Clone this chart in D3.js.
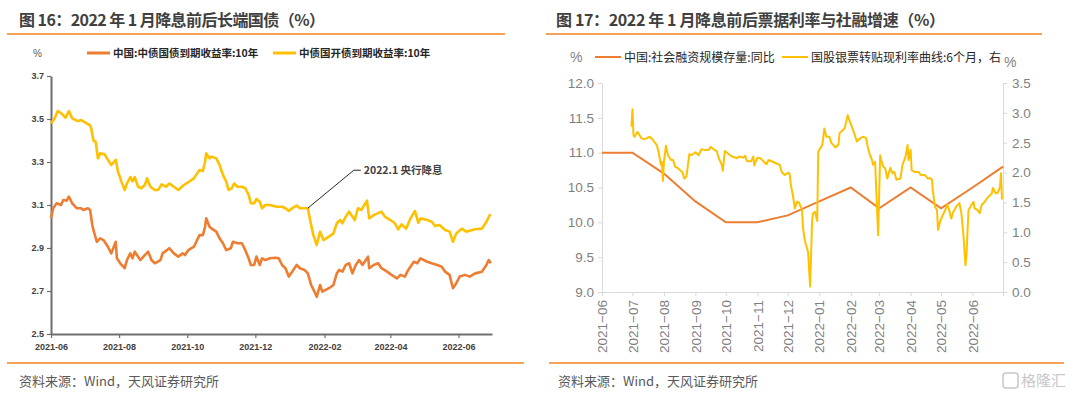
<!DOCTYPE html>
<html>
<head>
<meta charset="utf-8">
<script src="https://cdn.jsdelivr.net/npm/d3@7"></script>
<style>
  body { margin: 0; background: #fff; }
  svg { display: block; }
  .cjk { font-family: "Noto Sans CJK SC", "Noto Sans", sans-serif; }
</style>
</head>
<body>
<div id="chart"></div>
<script>
// left chart: 10Y yields (daily)
const cgbDates = ["2021-06-01","2021-06-03","2021-06-06","2021-06-10","2021-06-12","2021-06-15","2021-06-17","2021-06-20","2021-06-24","2021-06-28","2021-06-30","2021-07-04","2021-07-06","2021-07-08","2021-07-09","2021-07-12","2021-07-15","2021-07-18","2021-07-22","2021-07-25","2021-07-29","2021-07-30","2021-08-02","2021-08-06","2021-08-08","2021-08-11","2021-08-13","2021-08-15","2021-08-20","2021-08-24","2021-08-27","2021-08-30","2021-09-02","2021-09-07","2021-09-09","2021-09-15","2021-09-19","2021-09-23","2021-09-27","2021-09-29","2021-10-02","2021-10-07","2021-10-12","2021-10-15","2021-10-17","2021-10-18","2021-10-21","2021-10-23","2021-10-27","2021-10-30","2021-11-02","2021-11-05","2021-11-09","2021-11-11","2021-11-15","2021-11-19","2021-11-22","2021-11-25","2021-11-27","2021-11-30","2021-12-02","2021-12-05","2021-12-07","2021-12-10","2021-12-14","2021-12-19","2021-12-22","2021-12-25","2021-12-28","2021-12-31","2022-01-03","2022-01-07","2022-01-10","2022-01-14","2022-01-17","2022-01-20","2022-01-23","2022-01-25","2022-01-28","2022-01-30","2022-02-05","2022-02-09","2022-02-12","2022-02-14","2022-02-17","2022-02-20","2022-02-23","2022-02-26","2022-03-01","2022-03-04","2022-03-07","2022-03-10","2022-03-12","2022-03-13","2022-03-17","2022-03-21","2022-03-24","2022-03-29","2022-04-02","2022-04-07","2022-04-10","2022-04-14","2022-04-17","2022-04-22","2022-04-25","2022-04-28","2022-05-04","2022-05-08","2022-05-13","2022-05-17","2022-05-20","2022-05-24","2022-05-27","2022-05-30","2022-06-02","2022-06-07","2022-06-11","2022-06-16","2022-06-22","2022-06-26","2022-06-28","2022-06-30"];
const cgbYield = [3.04,3.085,3.108,3.10,3.123,3.12,3.139,3.108,3.085,3.085,3.077,3.085,3.077,3.007,2.984,2.929,2.945,2.937,2.906,2.875,2.929,2.852,2.829,2.806,2.844,2.875,2.852,2.883,2.844,2.867,2.883,2.844,2.829,2.844,2.875,2.899,2.875,2.86,2.875,2.867,2.89,2.906,2.96,2.96,2.999,3.038,2.999,2.99,2.976,2.945,2.922,2.89,2.899,2.929,2.922,2.922,2.89,2.852,2.821,2.821,2.86,2.821,2.852,2.844,2.852,2.855,2.852,2.821,2.806,2.767,2.79,2.821,2.806,2.798,2.782,2.728,2.697,2.673,2.728,2.697,2.713,2.728,2.782,2.798,2.79,2.821,2.829,2.782,2.821,2.844,2.821,2.844,2.86,2.806,2.821,2.829,2.806,2.79,2.775,2.759,2.775,2.767,2.798,2.836,2.829,2.852,2.836,2.829,2.821,2.813,2.79,2.775,2.713,2.736,2.767,2.775,2.767,2.782,2.79,2.821,2.844,2.829];

const cdbDates = ["2021-06-01","2021-06-04","2021-06-07","2021-06-10","2021-06-14","2021-06-17","2021-06-20","2021-06-25","2021-06-28","2021-07-03","2021-07-06","2021-07-07","2021-07-09","2021-07-11","2021-07-13","2021-07-15","2021-07-19","2021-07-22","2021-07-25","2021-07-29","2021-07-31","2021-08-03","2021-08-06","2021-08-08","2021-08-11","2021-08-13","2021-08-15","2021-08-18","2021-08-21","2021-08-24","2021-08-26","2021-08-29","2021-09-02","2021-09-05","2021-09-08","2021-09-12","2021-09-15","2021-09-19","2021-09-23","2021-09-28","2021-10-02","2021-10-07","2021-10-09","2021-10-12","2021-10-15","2021-10-17","2021-10-18","2021-10-21","2021-10-23","2021-10-27","2021-10-30","2021-11-02","2021-11-05","2021-11-07","2021-11-10","2021-11-12","2021-11-15","2021-11-19","2021-11-22","2021-11-25","2021-11-27","2021-11-30","2021-12-02","2021-12-05","2021-12-07","2021-12-10","2021-12-14","2021-12-20","2021-12-25","2021-12-28","2021-12-31","2022-01-03","2022-01-07","2022-01-10","2022-01-17","2022-01-20","2022-01-22","2022-01-25","2022-01-28","2022-01-31","2022-02-05","2022-02-09","2022-02-12","2022-02-15","2022-02-17","2022-02-20","2022-02-23","2022-02-26","2022-02-28","2022-03-03","2022-03-06","2022-03-08","2022-03-11","2022-03-13","2022-03-17","2022-03-20","2022-03-24","2022-03-27","2022-04-01","2022-04-05","2022-04-08","2022-04-11","2022-04-15","2022-04-19","2022-04-23","2022-04-26","2022-04-28","2022-05-04","2022-05-08","2022-05-11","2022-05-15","2022-05-20","2022-05-24","2022-05-27","2022-05-30","2022-06-04","2022-06-08","2022-06-11","2022-06-16","2022-06-22","2022-06-26","2022-06-29","2022-06-30"];
const cdbYield = [3.48,3.50,3.537,3.527,3.506,3.537,3.503,3.49,3.495,3.48,3.47,3.457,3.40,3.394,3.317,3.34,3.336,3.31,3.286,3.31,3.255,3.21,3.17,3.20,3.23,3.21,3.23,3.185,3.178,3.193,3.224,3.185,3.17,3.17,3.196,3.185,3.20,3.185,3.17,3.193,3.206,3.224,3.24,3.263,3.258,3.30,3.34,3.317,3.325,3.317,3.286,3.24,3.208,3.17,3.178,3.20,3.185,3.185,3.178,3.147,3.108,3.108,3.128,3.115,3.085,3.10,3.10,3.092,3.092,3.085,3.072,3.085,3.097,3.085,3.085,3.007,2.96,2.914,2.976,2.937,2.953,2.968,3.015,3.03,3.015,3.046,3.069,3.046,3.03,3.085,3.077,3.095,3.12,3.038,3.053,3.06,3.069,3.046,3.03,3.015,2.987,3.01,2.99,3.038,3.072,3.018,3.038,3.03,3.022,3.002,3.007,2.984,2.976,2.929,2.968,2.99,2.976,2.98,2.987,2.99,3.022,3.053,3.05];

const leftYTicks = [2.5, 2.7, 2.9, 3.1, 3.3, 3.5, 3.7];
const leftXTicks = ["2021-06-01","2021-08-01","2021-10-01","2021-12-01","2022-02-01","2022-04-01","2022-06-01"];
const cutDate = "2022-01-17";

// right chart: social financing stock yoy (monthly) and 6M bill rate (daily)
const tsfMonths = ["2021-06-01","2021-07-01","2021-08-01","2021-09-01","2021-10-01","2021-11-01","2021-12-01","2022-01-01","2022-02-01","2022-03-01","2022-04-01","2022-05-01","2022-06-01","2022-07-01"];
const tsfYoY = [11.0,11.0,10.7,10.3,10.0,10.0,10.1,10.3,10.5,10.2,10.5,10.2,10.5,10.8];

const billDates = ["2021-06-30","2021-07-01","2021-07-02","2021-07-03","2021-07-06","2021-07-10","2021-07-13","2021-07-18","2021-07-21","2021-07-25","2021-07-27","2021-07-29","2021-07-30","2021-07-31","2021-08-01","2021-08-03","2021-08-05","2021-08-08","2021-08-10","2021-08-12","2021-08-15","2021-08-19","2021-08-21","2021-08-23","2021-08-24","2021-08-26","2021-08-28","2021-09-01","2021-09-04","2021-09-07","2021-09-10","2021-09-14","2021-09-16","2021-09-19","2021-09-22","2021-09-24","2021-09-27","2021-09-28","2021-09-30","2021-10-03","2021-10-07","2021-10-12","2021-10-14","2021-10-18","2021-10-20","2021-10-22","2021-10-26","2021-10-28","2021-10-29","2021-11-01","2021-11-04","2021-11-07","2021-11-10","2021-11-12","2021-11-15","2021-11-19","2021-11-23","2021-11-25","2021-11-28","2021-12-02","2021-12-03","2021-12-04","2021-12-06","2021-12-08","2021-12-10","2021-12-12","2021-12-15","2021-12-16","2021-12-18","2021-12-20","2021-12-21","2021-12-23","2021-12-25","2021-12-26","2021-12-28","2021-12-30","2021-12-31","2022-01-02","2022-01-04","2022-01-06","2022-01-08","2022-01-11","2022-01-13","2022-01-15","2022-01-17","2022-01-20","2022-01-21","2022-01-24","2022-01-26","2022-01-29","2022-01-31","2022-02-04","2022-02-07","2022-02-10","2022-02-13","2022-02-16","2022-02-18","2022-02-20","2022-02-22","2022-02-23","2022-02-25","2022-02-27","2022-02-28","2022-03-02","2022-03-03","2022-03-05","2022-03-07","2022-03-09","2022-03-12","2022-03-14","2022-03-16","2022-03-18","2022-03-22","2022-03-24","2022-03-27","2022-03-29","2022-03-30","2022-04-01","2022-04-02","2022-04-05","2022-04-09","2022-04-11","2022-04-15","2022-04-18","2022-04-20","2022-04-22","2022-04-23","2022-04-25","2022-04-27","2022-04-28","2022-04-30","2022-05-02","2022-05-05","2022-05-07","2022-05-09","2022-05-11","2022-05-13","2022-05-16","2022-05-19","2022-05-21","2022-05-23","2022-05-25","2022-05-26","2022-05-28","2022-05-31","2022-06-02","2022-06-03","2022-06-06","2022-06-08","2022-06-10","2022-06-12","2022-06-15","2022-06-17","2022-06-20","2022-06-21","2022-06-24","2022-06-26","2022-06-28","2022-06-29","2022-06-30"];
const billRate = [2.77,3.06,2.63,2.60,2.68,2.57,2.56,2.60,2.55,2.46,2.32,2.13,2.18,1.86,2.18,2.45,2.29,2.21,2.21,2.10,2.07,2.01,1.90,1.93,2.04,2.31,2.29,2.34,2.29,2.39,2.38,2.38,2.43,2.39,2.36,2.24,2.13,2.03,2.36,2.32,2.27,2.24,2.27,2.25,2.28,2.19,2.19,2.27,2.12,2.25,2.24,2.19,2.14,2.21,2.19,2.16,2.13,2.01,1.96,2.00,1.96,1.79,1.62,1.40,1.51,1.50,1.37,1.07,0.85,0.73,0.67,0.09,1.21,1.32,1.34,1.19,2.35,2.41,2.46,2.74,2.60,2.60,2.49,2.46,2.42,2.47,2.66,2.71,2.74,2.96,2.86,2.68,2.52,2.57,2.60,2.58,2.41,2.29,2.21,2.13,2.18,1.37,0.95,2.29,2.21,2.10,2.07,1.90,2.08,1.99,2.01,1.88,1.90,2.13,2.27,2.46,2.21,2.38,2.04,2.01,2.01,1.96,1.96,1.90,1.91,1.88,1.68,1.43,1.37,1.04,1.18,1.26,1.37,1.46,1.37,1.23,1.34,1.43,1.49,1.32,0.95,0.45,0.62,1.37,1.46,1.51,1.40,1.37,1.32,1.46,1.49,1.56,1.60,1.65,1.74,1.65,1.67,1.76,1.99,1.55];

const rightYTicks = [9.0, 9.5, 10.0, 10.5, 11.0, 11.5, 12.0];
const rightY2Ticks = [0.0, 0.5, 1.0, 1.5, 2.0, 2.5, 3.0, 3.5];

const ORANGE = "#ED7D31", YELLOW = "#FFC000", RULE = "#F0841E";
const parse = d3.timeParse("%Y-%m-%d");

let svg = d3.select("#chart").append("svg")
  .attr("width", 1080)
  .attr("height", 396);

// titles, rules and source lines
const titles = [
  {x: 19, text: "图 16：2022 年 1 月降息前后长端国债（%）", r0: 7, r1: 505, f0: 7, f1: 524, src: 19},
  {x: 556, text: "图 17：2022 年 1 月降息前后票据利率与社融增速（%）", r0: 546, r1: 1042, f0: 549, f1: 1064, src: 558}
];
titles.forEach(t => {
  svg.append("text").attr("class", "cjk")
    .attr("x", t.x).attr("y", 26)
    .attr("font-size", 16).attr("font-weight", "bold").attr("fill", "#404040")
    .attr("textLength", t.x < 100 ? 306 : 389)
    .text(t.text);
  svg.append("line").attr("x1", t.r0).attr("x2", t.r1).attr("y1", 34).attr("y2", 34)
    .attr("stroke", RULE).attr("stroke-width", 1.5);
  svg.append("line").attr("x1", t.f0).attr("x2", t.f1).attr("y1", 363).attr("y2", 363)
    .attr("stroke", RULE).attr("stroke-width", 1.5);
  svg.append("text").attr("class", "cjk")
    .attr("x", t.src).attr("y", 386)
    .attr("font-size", 13).attr("fill", "#595959")
    .text("资料来源：Wind，天风证券研究所");
});

// watermark
svg.append("rect").attr("x", 1003).attr("y", 373).attr("width", 15).attr("height", 15).attr("rx", 3)
  .attr("fill", "none").attr("stroke", "#c8c8c8").attr("stroke-width", 1.5);
svg.append("text").attr("class", "cjk").attr("x", 1021).attr("y", 386)
  .attr("font-size", 15).attr("fill", "#c8c8c8").text("格隆汇");

// ---------- left chart ----------
const L = {left: 51, right: 492, top: 76, bottom: 334};
let xL = d3.scaleTime().domain([parse("2021-06-01"), parse("2022-07-01")]).range([L.left, L.right]);
let yL = d3.scaleLinear().domain([2.5, 3.7]).range([L.bottom, L.top]);

let gL = svg.append("g");
let xAxisL = gL.append("g")
  .attr("transform", `translate(0, ${L.bottom})`)
  .call(d3.axisBottom(xL).tickValues(leftXTicks.map(parse)).tickFormat(d3.timeFormat("%Y-%m")).tickSize(4).tickSizeOuter(0));
let yAxisL = gL.append("g")
  .attr("transform", `translate(${L.left}, 0)`)
  .call(d3.axisLeft(yL).tickValues(leftYTicks).tickFormat(d3.format(".1f")).tickSize(4).tickSizeOuter(0));
[xAxisL, yAxisL].forEach(a => {
  a.select(".domain").attr("stroke", "#6f6f6f").attr("stroke-width", 2);
  a.selectAll(".tick line").attr("stroke", "#6f6f6f").attr("stroke-width", 1.2);
  a.selectAll(".tick text").attr("font-family", "Liberation Sans, Arial, sans-serif")
    .attr("font-size", 9).attr("font-weight", "bold").attr("fill", "#404040");
});
xAxisL.selectAll(".tick text").attr("dy", "0.95em");

let lineL = (dates, vals) => d3.line()
  .x((d, i) => xL(parse(dates[i])))
  .y(d => yL(d))(vals);

gL.append("path").attr("d", lineL(cdbDates, cdbYield))
  .attr("fill", "none").attr("stroke", YELLOW).attr("stroke-width", 2.6).attr("stroke-linejoin", "round");
gL.append("path").attr("d", lineL(cgbDates, cgbYield))
  .attr("fill", "none").attr("stroke", ORANGE).attr("stroke-width", 2.6).attr("stroke-linejoin", "round");

// annotation for the Jan rate cut
const cutX = xL(parse(cutDate));
const cutY = yL(cdbYield[cdbDates.indexOf(cutDate)]);
gL.append("path")
  .attr("d", `M${cutX},${cutY} L${cutX + 46},${cutY - 38} L${cutX + 53},${cutY - 38}`)
  .attr("fill", "none").attr("stroke", "#262626").attr("stroke-width", 1);
gL.append("text").attr("class", "cjk")
  .attr("x", cutX + 56).attr("y", cutY - 34)
  .attr("font-size", 10.5).attr("font-weight", "bold").attr("fill", "#404040")
  .text("2022.1 央行降息");

// legend
gL.append("text").attr("x", 33).attr("y", 57)
  .attr("font-family", "Liberation Sans, Arial, sans-serif").attr("font-size", 10).attr("fill", "#595959").text("%");
const legL = [{c: ORANGE, x: 87, t: "中国:中债国债到期收益率:10年"}, {c: YELLOW, x: 273, t: "中债国开债到期收益率:10年"}];
legL.forEach(l => {
  gL.append("line").attr("x1", l.x).attr("x2", l.x + 23).attr("y1", 53).attr("y2", 53)
    .attr("stroke", l.c).attr("stroke-width", 3);
  gL.append("text").attr("class", "cjk").attr("x", l.x + 26).attr("y", 57)
    .attr("font-size", 10.5).attr("font-weight", "bold").attr("fill", "#262626").text(l.t);
});

// ---------- right chart ----------
const R = {left: 602, right: 1003, top: 83, bottom: 292};
let xR = d3.scaleTime().domain([parse("2021-06-01"), parse("2022-07-01")]).range([R.left, R.right]);
let yR = d3.scaleLinear().domain([9, 12]).range([R.bottom, R.top]);
let yR2 = d3.scaleLinear().domain([0, 3.5]).range([R.bottom, R.top]);

let gR = svg.append("g");
let xAxisR = gR.append("g")
  .attr("transform", `translate(0, ${R.bottom})`)
  .call(d3.axisBottom(xR).ticks(d3.timeMonth.every(1)).tickFormat(d3.timeFormat("%Y\u2212%m")).tickSize(4).tickSizeOuter(0));
let yAxisR = gR.append("g")
  .attr("transform", `translate(${R.left}, 0)`)
  .call(d3.axisLeft(yR).tickValues(rightYTicks).tickFormat(d3.format(".1f")).tickSize(4).tickSizeOuter(0));
let yAxisR2 = gR.append("g")
  .attr("transform", `translate(${R.right}, 0)`)
  .call(d3.axisRight(yR2).tickValues(rightY2Ticks).tickFormat(d3.format(".1f")).tickSize(4).tickSizeOuter(0));
[xAxisR, yAxisR, yAxisR2].forEach(a => {
  a.select(".domain").attr("stroke", "#d9d9d9").attr("stroke-width", 1);
  a.selectAll(".tick line").attr("stroke", "#d9d9d9");
  a.selectAll(".tick text").attr("font-family", "Liberation Sans, Arial, sans-serif")
    .attr("font-size", 13.5).attr("fill", "#7f7f7f");
});
// drop the 2022-07 label at the axis end
xAxisR.selectAll(".tick").filter(d => d >= parse("2022-07-01")).select("text").remove();
xAxisR.selectAll(".tick text")
  .attr("transform", "rotate(-90)")
  .attr("text-anchor", "end")
  .attr("x", -8).attr("y", 0).attr("dy", "0.35em");
yAxisR.selectAll(".tick text").attr("x", -8);
yAxisR2.selectAll(".tick text").attr("x", 9);

gR.append("path")
  .attr("d", d3.line().x((d, i) => xR(parse(tsfMonths[i]))).y(d => yR(d))(tsfYoY))
  .attr("fill", "none").attr("stroke", ORANGE).attr("stroke-width", 2);
gR.append("path")
  .attr("d", d3.line().x((d, i) => xR(parse(billDates[i]))).y(d => yR2(d))(billRate))
  .attr("fill", "none").attr("stroke", YELLOW).attr("stroke-width", 2).attr("stroke-linejoin", "round");

// legend
gR.append("text").attr("x", 570).attr("y", 62)
  .attr("font-family", "Liberation Sans, Arial, sans-serif").attr("font-size", 14).attr("fill", "#7f7f7f").text("%");
gR.append("text").attr("x", 1004).attr("y", 67)
  .attr("font-family", "Liberation Sans, Arial, sans-serif").attr("font-size", 14).attr("fill", "#7f7f7f").text("%");
const legR = [{c: ORANGE, x: 595, t: "中国:社会融资规模存量:同比"}, {c: YELLOW, x: 782, t: "国股银票转贴现利率曲线:6个月，右"}];
legR.forEach(l => {
  gR.append("line").attr("x1", l.x).attr("x2", l.x + 26).attr("y1", 57).attr("y2", 57)
    .attr("stroke", l.c).attr("stroke-width", 2);
  gR.append("text").attr("class", "cjk").attr("x", l.x + 29).attr("y", 61.5)
    .attr("font-size", 12).attr("fill", "#262626").text(l.t);
});
</script>
</body>
</html>
